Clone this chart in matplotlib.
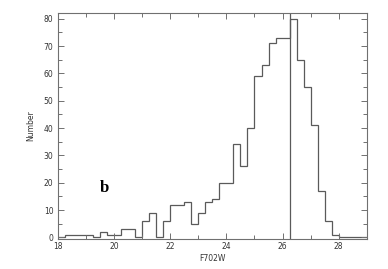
import numpy as np
import matplotlib
matplotlib.use("Agg")
import matplotlib.pyplot as plt
from matplotlib.ticker import MultipleLocator

# Histogram of F702W magnitudes, bin width 0.25 mag from 18 to 29
bin_edges = np.arange(18.0, 29.0001, 0.25)
counts = [0, 1, 1, 1, 1, 0, 2, 1, 1, 3, 3, 0,          # 18.00 - 21.00
          6, 9, 0, 6, 12, 12, 13, 5,                   # 21.00 - 23.00
          9, 13, 14, 20, 20, 34, 26, 40,               # 23.00 - 25.00
          59, 63, 71, 73, 73, 80, 65, 55,              # 25.00 - 27.00
          41, 17, 6, 1, 0, 0, 0, 0]                    # 27.00 - 29.00
completeness_limit = 26.25
panel_label = "b"

line_col = "#5a5a5a"
frame_col = "#707070"

fig = plt.figure(figsize=(3.88, 2.69), dpi=100)
ax = fig.add_axes([0.150, 0.1126, 0.795, 0.838])

ax.stairs(counts, bin_edges, baseline=0, color=line_col, lw=0.9)
ax.axvline(completeness_limit, color=line_col, lw=0.9)

ax.set_xlim(18, 29)
ax.set_ylim(-0.5, 82)

ax.xaxis.set_major_locator(MultipleLocator(2))
ax.xaxis.set_minor_locator(MultipleLocator(1))
ax.yaxis.set_major_locator(MultipleLocator(10))
ax.yaxis.set_minor_locator(MultipleLocator(5))

ax.tick_params(which="both", direction="in", top=True, right=True,
               color=frame_col, width=0.7, labelsize=5.5, labelcolor="#333333")
ax.tick_params(which="major", length=4)
ax.tick_params(which="minor", length=3)
ax.tick_params(axis="x", pad=2.5)
ax.tick_params(axis="y", pad=3.5)

for s in ax.spines.values():
    s.set_color(frame_col)
    s.set_linewidth(0.8)

ax.set_xlabel("F702W", fontsize=5.5, color="#333333", labelpad=2)
ax.set_ylabel("Number", fontsize=5.5, color="#333333", labelpad=6)

ax.text(19.64, 18, panel_label, fontsize=12, fontweight="bold",
        family="Liberation Serif", ha="center", va="center", color="black")

fig.savefig("out.png", dpi=100)
